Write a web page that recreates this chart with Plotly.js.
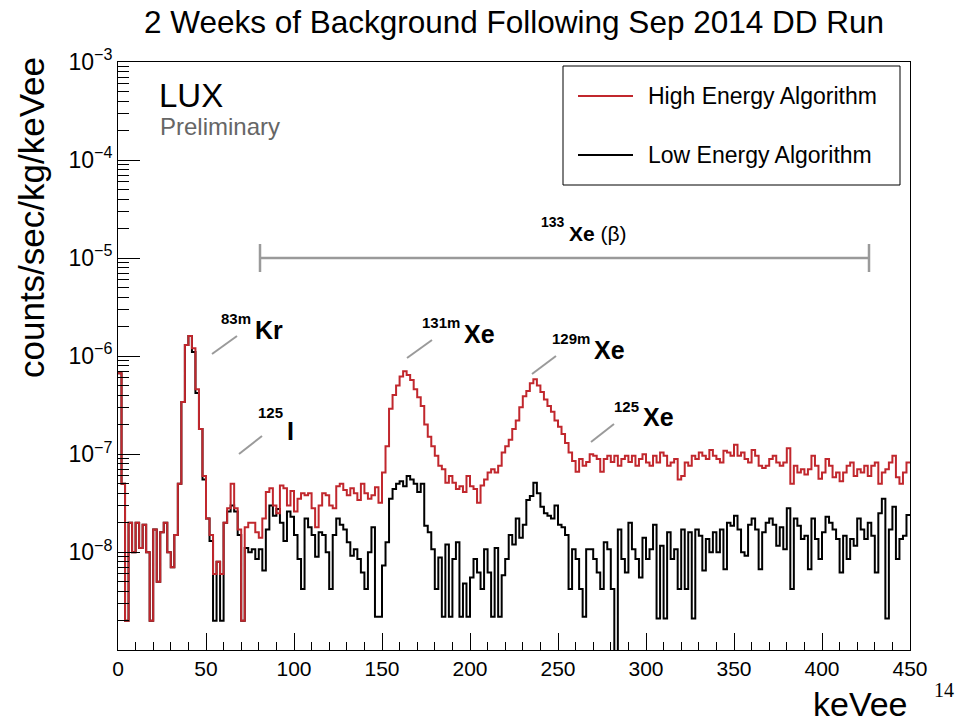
<!DOCTYPE html>
<html><head><meta charset="utf-8">
<script src="https://cdn.plot.ly/plotly-3.0.1.min.js"></script>
<style>body{margin:0;background:#fff}#chart{width:955px;height:723px}</style>
</head><body><div id="chart"></div>
<script>
// histogram: 2 keVee bins from 0 to 450 keVee
const binWidth = 2;
const nBins = 225;

// counts/sec/kg/keVee, High Energy Algorithm (red)
const highEnergy = [
 6.7e-7,5e-8,2e-9,2e-8,1e-8,2e-8,1.1e-8,1.9e-8,1e-8,2e-9,
 1.7e-8,5e-9,1.6e-8,2e-8,1e-8,7e-9,1.5e-8,5e-8,3.4e-7,1.3e-6,
 1.6e-6,1.2e-6,4.6e-7,1.8e-7,6e-8,2.2e-8,1.5e-8,6e-9,8e-9,6e-9,
 2e-8,2.8e-8,5e-8,2.8e-8,1.7e-8,2e-9,1.8e-8,2e-8,2e-8,1.6e-8,
 1.4e-8,2.2e-8,4.1e-8,4.5e-8,3e-8,2.5e-8,4.8e-8,4.5e-8,3e-8,4.2e-8,
 2.6e-8,3.5e-8,4e-8,3.8e-8,4e-8,2.8e-8,1.8e-8,3e-8,4e-8,3.8e-8,
 3e-8,2.8e-8,4.7e-8,5e-8,4.3e-8,3.8e-8,4.5e-8,4e-8,3.4e-8,5e-8,
 4e-8,3.5e-8,3.8e-8,4.6e-8,3.2e-8,6.5e-8,1.2e-7,2.9e-7,4e-7,5e-7,
 6.2e-7,7e-7,6.4e-7,5.7e-7,4.6e-7,3.8e-7,3.1e-7,2e-7,1.5e-7,1.2e-7,
 9.6e-8,7.6e-8,7e-8,5.1e-8,6e-8,5.1e-8,4.4e-8,4.7e-8,4.1e-8,6e-8,
 4.7e-8,4.4e-8,3.2e-8,4.8e-8,5.5e-8,6.5e-8,7e-8,6.5e-8,7.6e-8,1.04e-7,
 1.2e-7,1.4e-7,1.8e-7,2.2e-7,3e-7,3.9e-7,4.4e-7,5.3e-7,5.8e-7,5e-7,
 4.3e-7,3.6e-7,3.1e-7,2.7e-7,2.2e-7,1.9e-7,1.6e-7,1.3e-7,1.04e-7,8.5e-8,
 6.6e-8,8.9e-8,7.6e-8,8.3e-8,1e-7,9.6e-8,8.9e-8,6.6e-8,8.9e-8,9.6e-8,
 8.3e-8,9.6e-8,7.6e-8,8.9e-8,9.6e-8,8.3e-8,9.6e-8,7.6e-8,8.9e-8,1e-7,
 8.2e-8,7.6e-8,9.6e-8,8.2e-8,1.04e-7,9.6e-8,7.6e-8,8.2e-8,8.9e-8,5.5e-8,
 6e-8,8.2e-8,7.6e-8,9.6e-8,8.9e-8,1.04e-7,9.6e-8,8.9e-8,1.1e-7,9.6e-8,
 8.9e-8,8.2e-8,1.08e-7,1.04e-7,9.6e-8,1.25e-7,9.6e-8,1.04e-7,8.9e-8,8.2e-8,
 1.1e-7,9.6e-8,7.6e-8,7.2e-8,7.6e-8,8.9e-8,9.6e-8,8.2e-8,7.6e-8,8.2e-8,
 1.15e-7,5e-8,7.6e-8,6.5e-8,7e-8,6.2e-8,7e-8,9.6e-8,7.6e-8,5.6e-8,
 6.5e-8,8.9e-8,7.6e-8,5.8e-8,6.5e-8,5.3e-8,6.5e-8,7.6e-8,8.2e-8,6e-8,
 7e-8,6.5e-8,7.6e-8,6e-8,7.6e-8,8.2e-8,5e-8,6.5e-8,7e-8,8.2e-8,
 9.6e-8,5.8e-8,5e-8,6.5e-8,8.2e-8
];

// counts/sec/kg/keVee, Low Energy Algorithm (black); 1e-10 = empty bin (below axis)
const lowEnergy = [
 6.7e-7,5e-8,2e-9,2e-8,1e-8,2e-8,1.1e-8,1.9e-8,1e-8,2e-9,
 1.7e-8,5e-9,1.6e-8,2e-8,1e-8,7e-9,1.5e-8,5e-8,3.4e-7,1.3e-6,
 1.6e-6,1.1e-6,4.2e-7,1.8e-7,5.5e-8,2.2e-8,1.3e-8,2e-9,8e-9,2e-9,
 2e-8,2.6e-8,3e-8,2.6e-8,1.5e-8,2e-9,1.1e-8,1e-8,1.07e-8,8.5e-9,
 1.07e-8,6.5e-9,1.7e-8,3e-8,2.35e-8,2.75e-8,2e-8,1.3e-8,2.6e-8,2.3e-8,
 1.5e-8,8.5e-9,4.2e-9,2.2e-8,1.8e-8,1.5e-8,9e-9,1.6e-8,1.5e-8,1e-8,
 4.2e-9,1.5e-8,2.2e-8,1.9e-8,1.7e-8,1.26e-8,9.2e-9,1.07e-8,8.5e-9,6.2e-9,
 4.2e-9,1e-8,1.8e-8,2.2e-9,2.2e-9,7.3e-9,1.26e-8,3.5e-8,4.4e-8,5e-8,
 5.3e-8,4.7e-8,6e-8,5.5e-8,5e-8,4.1e-8,5e-8,1.86e-8,1.6e-8,1.07e-8,
 4.2e-9,8.8e-9,2.2e-9,1.2e-8,2.2e-9,8.5e-9,1.26e-8,2.2e-9,4.8e-9,2.2e-9,
 5.5e-9,8.5e-9,6.2e-9,4.2e-9,1.07e-8,6.2e-9,2.2e-9,1.1e-8,2.2e-9,5.8e-9,
 8.5e-9,1.5e-8,1.2e-8,2.2e-8,1.4e-8,1.9e-8,3.4e-8,3.75e-8,5.1e-8,4e-8,
 2.9e-8,2.5e-8,2.35e-8,2.2e-8,3e-8,1.9e-8,1.8e-8,1.5e-8,4.2e-9,1.07e-8,
 8.5e-9,4.2e-9,2.2e-9,1.07e-8,1.07e-8,8.5e-9,6.2e-9,4.2e-9,1.26e-8,1.07e-8,
 4.2e-9,1e-10,1.7e-8,8.5e-9,6.2e-9,2e-8,1.07e-8,8.5e-9,5.5e-9,1.4e-8,
 8.5e-9,1.07e-8,1.9e-8,2.1e-9,1.16e-8,2.1e-9,1.6e-8,8.5e-9,1.07e-8,4.2e-9,
 1.7e-8,4.2e-9,1.6e-8,2.1e-9,1.7e-8,1.47e-8,6.5e-9,1.36e-8,1e-8,1.6e-8,
 1e-8,1.7e-8,6.7e-9,2e-8,1.86e-8,2.35e-8,1.7e-8,1e-8,9.2e-9,1.9e-8,
 2.2e-8,1.7e-8,6.7e-9,1.6e-8,2e-8,2.2e-8,1.9e-8,1.16e-8,1.8e-8,1.07e-8,
 2.8e-8,4.2e-9,2.2e-8,1.86e-8,1.36e-8,1.47e-8,6.7e-9,2.2e-8,1.36e-8,8.5e-9,
 1.6e-8,2.3e-8,2e-8,1.7e-8,1.36e-8,6.2e-9,1.47e-8,8.5e-9,1.36e-8,1.16e-8,
 2.2e-8,1.7e-8,1.36e-8,2e-8,1.47e-8,6.2e-9,2.5e-8,3.5e-8,2.1e-9,1.7e-8,
 2.9e-8,8.5e-9,1.36e-8,1.47e-8,2.4e-8
];

const seriesNames = ['High Energy Algorithm', 'Low Energy Algorithm'];
const xTickVals = [0,50,100,150,200,250,300,350,400,450];
const yTickVals = [1e-8,1e-7,1e-6,1e-5,1e-4,1e-3];
const yTickText = ['10<sup>\u22128</sup>','10<sup>\u22127</sup>','10<sup>\u22126</sup>','10<sup>\u22125</sup>','10<sup>\u22124</sup>','10<sup>\u22123</sup>'];

// step outline (bin edges + repeated last value)
function stepXY(vals){
  const xs = [], ys = [];
  for (let i = 0; i < vals.length; i++){ xs.push(i*binWidth); ys.push(vals[i]); }
  xs.push(vals.length*binWidth); ys.push(vals[vals.length-1]);
  return {xs, ys};
}

const RED = '#c1272d';
const lo = stepXY(lowEnergy), hi = stepXY(highEnergy);
const traces = [
  {x: lo.xs, y: lo.ys, type:'scatter', mode:'lines', name: seriesNames[1],
   line:{shape:'hv', color:'#000', width:2}, showlegend:false, hoverinfo:'skip'},
  {x: hi.xs, y: hi.ys, type:'scatter', mode:'lines', name: seriesNames[0],
   line:{shape:'hv', color:RED, width:2}, showlegend:false, hoverinfo:'skip'}
];

// pixel -> paper helpers (plot area 118..910 x 62..650)
const L=118, R=910, T=62, B=650;
const px = x => (x-L)/(R-L);
const py = y => (B-y)/(B-T);
const FONT = 'Liberation Sans, Arial, Helvetica, sans-serif';
const GRAY = '#9a9a9a';

function seg(x0,y0,x1,y1,color,w){
  return {type:'line', xref:'paper', yref:'paper', x0:px(x0), y0:py(y0), x1:px(x1), y1:py(y1),
          line:{color:color, width:w}, layer:'above'};
}
function txt(x,y,text,size,opts){
  return Object.assign({xref:'paper', yref:'paper', x:px(x), y:py(y), text:text, showarrow:false,
          xanchor:'left', yanchor:'middle', font:{family:FONT, size:size, color:'#000'}}, opts||{});
}

const shapes = [
  {type:'rect', xref:'paper', yref:'paper', x0:px(563), x1:px(900), y0:py(185), y1:py(66),
   line:{color:'#000', width:1}, fillcolor:'#fff', layer:'above'},
  seg(578,96,633,96,RED,2),
  seg(578,155,633,155,'#000',2),
  seg(260,258,869,258,GRAY,2.5),
  seg(260,244,260,272,GRAY,2.5),
  seg(869,244,869,272,GRAY,2.5),
  seg(212,354,237,336,GRAY,2),
  seg(239,454,262,436,GRAY,2),
  seg(407,358,432,340,GRAY,2),
  seg(532,374,556,356,GRAY,2),
  seg(591,442,614,424,GRAY,2)
];

const annotations = [
  txt(646,96,seriesNames[0],23),
  txt(646,155,seriesNames[1],23),
  txt(157,96,'LUX',33),
  txt(158,127,'Preliminary',24,{font:{family:FONT,size:24,color:'#666'}}),
  // isotope labels
  txt(253,318,'<b>83m</b>',15,{xanchor:'right'}),
  txt(253,330,'<b>Kr</b>',25),
  txt(285,412,'<b>125</b>',15,{xanchor:'right'}),
  txt(285,431,'<b>I</b>',25),
  txt(462,322,'<b>131m</b>',15,{xanchor:'right'}),
  txt(462,334,'<b>Xe</b>',25),
  txt(592,338,'<b>129m</b>',15,{xanchor:'right'}),
  txt(592,350,'<b>Xe</b>',25),
  txt(641,406,'<b>125</b>',15,{xanchor:'right'}),
  txt(641,417,'<b>Xe</b>',25),
  txt(567,222,'<b>133</b>',14,{xanchor:'right'}),
  txt(567,233,'<b>Xe</b> (\u03b2)',21),
  // axis titles
  txt(32,218,'counts/sec/kg/keVee',35,{xanchor:'center', textangle:-90}),
  txt(910,704,'keVee',34,{xanchor:'right'}),
  txt(944,690,'14',20,{xanchor:'center', font:{family:'Liberation Serif, DejaVu Serif, serif', size:20, color:'#000'}})
];

const layout = {
  width:955, height:723,
  margin:{l:L, r:955-R, t:T, b:723-B, pad:0},
  paper_bgcolor:'#fff', plot_bgcolor:'#fff',
  font:{family:FONT, color:'#000'},
  title:{text:'2 Weeks of Background Following Sep 2014 DD Run', x:514/955, xanchor:'center',
         y:1-22/723, yanchor:'middle', font:{family:FONT, size:31.5, color:'#000'}},
  xaxis:{range:[0,450], tickmode:'array', tickvals:xTickVals, ticks:'inside', ticklen:17, tickwidth:1,
         tickcolor:'#000', showline:true, linecolor:'#000', linewidth:1, mirror:true, showgrid:false,
         zeroline:false, tickfont:{family:FONT, size:21, color:'#000'},
         minor:{dtick:10, tick0:0, ticks:'inside', ticklen:8, tickcolor:'#000', showgrid:false}},
  yaxis:{type:'log', range:[-8.998,-3], tickmode:'array', tickvals:yTickVals, ticktext:yTickText,
         ticks:'inside', ticklen:22, tickwidth:1, tickcolor:'#000', showline:true, linecolor:'#000',
         linewidth:1, mirror:true, showgrid:false, zeroline:false,
         tickfont:{family:FONT, size:23, color:'#000'},
         minor:{ticks:'inside', ticklen:11, tickcolor:'#000', showgrid:false, dtick:'D1'}},
  shapes:shapes, annotations:annotations, showlegend:false
};

Plotly.newPlot('chart', traces, layout, {displayModeBar:false, staticPlot:true});
</script>
</body></html>
